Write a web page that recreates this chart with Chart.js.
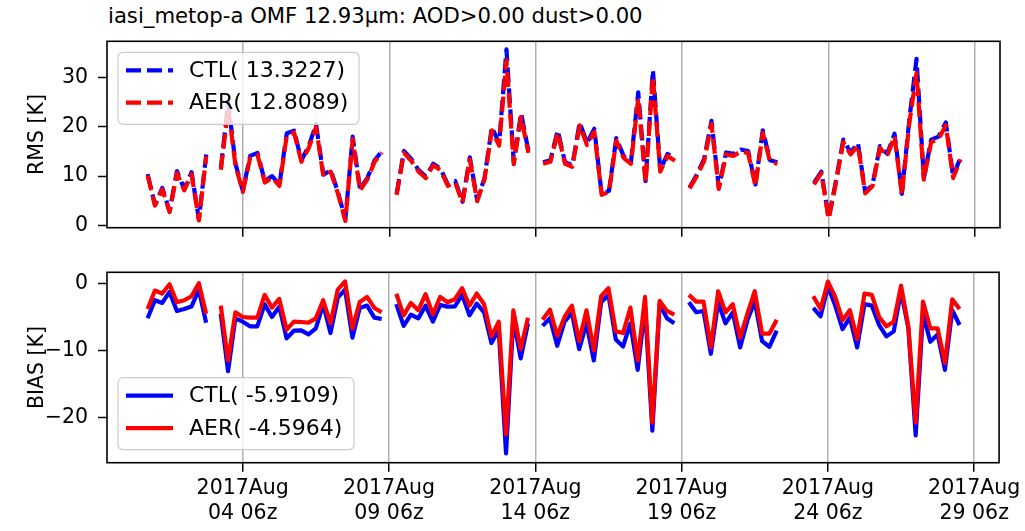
<!DOCTYPE html>
<html>
<head>
<meta charset="utf-8">
<script src="https://cdn.jsdelivr.net/npm/chart.js@4.4.0/dist/chart.umd.min.js"></script>
<style>
  html, body { margin: 0; padding: 0; background: #fff; }
  #wrap { position: relative; width: 1025px; height: 531px; }
  #title { position: absolute; left: 108px; top: 3px; font: 21.2px 'DejaVu Sans'; color: #000; white-space: nowrap; }
  #rmsChart { position: absolute; left: 0; top: 0; }
  #biasChart { position: absolute; left: 0; top: 250px; }
</style>
</head>
<body>
<div id="wrap">
  <div id="title">iasi_metop-a OMF 12.93μm: AOD&gt;0.00 dust&gt;0.00</div>
  <canvas id="rmsChart" width="1025" height="250" style="width:1025px;height:250px"></canvas>
  <canvas id="biasChart" width="1025" height="281" style="width:1025px;height:281px"></canvas>
</div>
<script>
// 6-hourly steps starting 2017 Aug 01 00z (null = no data)
const rmsCtl = [10.4, 4.2, 7.6, 2.9, 11.0, 7.4, 10.8, 1.2, 14.4, null,
  11.6, 25.0, 12.5, 7.0, 14.1, 14.7, 9.0, 10.0, 8.3, 18.7,
  19.2, 13.2, 16.1, 20.5, 10.3, 11.2, 6.7, 1.2, 18.0, 7.4,
  9.6, 13.2, 15.1, null, 6.4, 15.1, 13.5, 11.2, 9.9, 12.5,
  11.5, 8.3, 9.0, 4.8, 13.8, 5.1, 9.6, 19.9, 16.7, 35.7,
  12.8, 22.8, 15.1, null, 12.8, 13.2, 19.3, 12.8, 12.2, 20.9,
  16.7, 19.6, 6.4, 7.0, 17.7, 14.1, 12.8, 27.0, 9.0, 31.5,
  11.2, 14.5, 13.5, null, 7.7, 10.3, 13.5, 21.2, 7.7, 14.8,
  14.5, 15.4, 15.1, 8.3, 19.3, 13.2, 12.8, null, null, null,
  null, 8.6, 10.9, 1.5, 9.0, 17.4, 14.8, 16.7, 6.7, 8.3,
  16.1, 14.5, 18.6, 6.4, 21.2, 33.8, 9.6, 17.4, 18.0, 20.9,
  9.9, 13.8];
const rmsAer = [10.1, 4.0, 7.3, 2.7, 10.6, 7.1, 10.4, 1.0, 14.0, null,
  11.3, 23.8, 12.1, 6.8, 13.7, 14.3, 8.7, 9.7, 8.0, 18.2,
  18.8, 12.9, 15.7, 19.9, 10.0, 10.9, 6.4, 0.9, 17.5, 7.1,
  9.3, 12.9, 14.8, null, 6.2, 14.7, 13.1, 10.9, 9.6, 12.2,
  11.2, 8.0, 8.7, 4.6, 13.4, 4.9, 9.3, 19.3, 16.2, 33.5,
  12.4, 22.0, 14.7, null, 12.5, 12.9, 18.8, 12.5, 11.9, 20.3,
  16.3, 19.0, 6.2, 6.8, 17.2, 13.7, 12.5, 25.8, 8.7, 30.2,
  10.9, 14.1, 13.1, null, 7.5, 10.0, 13.1, 20.6, 7.4, 14.4,
  14.1, 15.0, 14.7, 8.0, 18.8, 12.9, 12.5, null, null, null,
  null, 8.3, 10.6, 1.3, 8.7, 16.9, 14.4, 16.2, 6.5, 8.0,
  15.7, 14.1, 18.1, 6.2, 20.6, 30.9, 9.3, 16.9, 17.5, 20.3,
  9.6, 13.4];
const biasCtl = [-5.2, -2.5, -2.9, -1.25, -4.1, -3.8, -3.45, -0.9, -5.85, null,
  -4.5, -13.1, -5.2, -5.7, -6.4, -6.4, -3.1, -5.0, -3.45, -8.2,
  -7.05, -7.0, -7.6, -6.7, -3.1, -7.4, -2.1, -0.9, -8.1, -3.65,
  -3.3, -5.1, -5.3, null, -3.07, -6.33, -4.65, -5.2, -3.3, -5.7,
  -3.2, -3.45, -3.4, -1.7, -4.75, -3.0, -4.3, -8.9, -6.9, -25.4,
  -5.2, -11.2, -5.95, null, -6.33, -5.2, -9.3, -5.7, -4.4, -9.8,
  -5.95, -11.5, -2.8, -1.7, -8.35, -9.4, -5.95, -12.9, -3.55, -22.0,
  -3.07, -5.2, -5.95, null, -2.8, -4.3, -4.1, -10.5, -2.8, -5.95,
  -4.3, -9.55, -5.5, -2.6, -8.6, -9.45, -7.05, null, null, null,
  null, -3.65, -4.9, -0.43, -3.3, -6.8, -5.1, -9.55, -3.07, -3.3,
  -6.2, -7.9, -7.15, -1.15, -6.7, -22.7, -4.5, -8.7, -7.6, -12.9,
  -4.0, -6.2];
const biasAer = [-3.8, -1.05, -1.5, -0.1, -2.8, -2.5, -1.9, 0.05, -4.5, null,
  -3.3, -11.5, -4.3, -5.0, -5.1, -5.1, -1.7, -3.6, -2.3, -6.9,
  -5.7, -5.75, -5.85, -5.2, -2.5, -5.95, -0.9, 0.3, -6.7, -2.75,
  -2.0, -3.65, -4.3, null, -1.53, -4.75, -2.9, -4.0, -1.6, -4.6,
  -2.0, -2.8, -2.35, -0.7, -3.3, -1.5, -3.1, -7.9, -5.7, -22.5,
  -4.0, -9.8, -5.1, null, -5.4, -3.9, -7.8, -5.0, -3.3, -8.6,
  -4.0, -10.0, -1.9, -0.7, -7.15, -7.4, -3.6, -11.5, -2.0, -20.8,
  -2.6, -4.1, -4.65, null, -1.7, -2.7, -2.7, -9.55, -1.15, -4.3,
  -3.1, -8.1, -4.5, -1.15, -7.5, -7.5, -5.4, null, null, null,
  null, -1.9, -3.8, 0.3, -2.0, -5.5, -4.0, -8.3, -1.5, -1.7,
  -5.0, -6.4, -5.7, -0.3, -6.4, -20.8, -2.7, -6.7, -6.7, -11.9,
  -2.35, -3.8];

const seriesNames = ['CTL', 'AER'];
const rmsMeans = ['13.3227', '12.8089'];
const biasMeans = ['-5.9109', '-4.5964'];

// x ticks (in 6-hour steps from Aug 01 00z)
const xTickSteps = [13, 33, 53, 73, 93, 113];
const xTickLabels = [
  ['2017Aug', '04 06z'], ['2017Aug', '09 06z'], ['2017Aug', '14 06z'],
  ['2017Aug', '19 06z'], ['2017Aug', '24 06z'], ['2017Aug', '29 06z']
];
const rmsTicks = [0, 10, 20, 30];
const biasTicks = [0, -10, -20];

const FONT = { family: 'DejaVu Sans', size: 20.5 };

function toPoints(arr) {
  return arr.map((v, i) => ({ x: i, y: v }));
}

// draws the box around the plot area and the in-plot legend
const boxPlugin = {
  id: 'boxLegend',
  afterDraw(chart) {
    const { ctx, chartArea: a } = chart;
    const o = chart.options.plugins.boxLegend;
    ctx.save();
    // legend
    const lx = a.left + 11;
    const ly = o.atBottom ? a.bottom - 13 - 72 : a.top + 11;
    const w = o.width, h = 72, r = 5;
    ctx.beginPath();
    ctx.moveTo(lx + r, ly);
    ctx.arcTo(lx + w, ly, lx + w, ly + h, r);
    ctx.arcTo(lx + w, ly + h, lx, ly + h, r);
    ctx.arcTo(lx, ly + h, lx, ly, r);
    ctx.arcTo(lx, ly, lx + w, ly, r);
    ctx.closePath();
    ctx.fillStyle = 'rgba(255,255,255,0.8)';
    ctx.fill();
    ctx.strokeStyle = '#cccccc';
    ctx.lineWidth = 1.2;
    ctx.stroke();
    chart.data.datasets.forEach((ds, i) => {
      const yy = ly + 18 + i * 32.4;
      ctx.beginPath();
      ctx.setLineDash(ds.borderDash || []);
      ctx.strokeStyle = ds.borderColor;
      ctx.lineWidth = ds.borderWidth;
      ctx.moveTo(lx + 8, yy);
      ctx.lineTo(lx + 55, yy);
      ctx.stroke();
      ctx.setLineDash([]);
      ctx.fillStyle = '#000';
      ctx.font = '22px "DejaVu Sans"';
      ctx.textBaseline = 'middle';
      ctx.fillText(ds.label, lx + 71, yy + 1);
    });
    // frame
    ctx.strokeStyle = '#000';
    ctx.lineWidth = 1.6;
    ctx.strokeRect(a.left, a.top, a.right - a.left, a.bottom - a.top);
    ctx.restore();
  }
};

function makeChart(id, cfg) {
  const datasets = [
    {
      label: seriesNames[0] + '( ' + cfg.means[0] + ')',
      data: toPoints(cfg.ctl),
      borderColor: '#0000ff',
      borderWidth: 4.2,
      borderDash: cfg.dash,
      order: 1
    },
    {
      label: seriesNames[1] + '( ' + cfg.means[1] + ')',
      data: toPoints(cfg.aer),
      borderColor: '#ff0000',
      borderWidth: 4.2,
      borderDash: cfg.dash,
      order: 0
    }
  ];
  datasets.forEach(ds => {
    ds.pointRadius = 0;
    ds.tension = 0;
    ds.spanGaps = false;
    ds.fill = false;
    ds.borderJoinStyle = 'round';
  });

  return new Chart(document.getElementById(id), {
    type: 'line',
    data: { datasets: datasets },
    plugins: [boxPlugin],
    options: {
      responsive: false,
      animation: false,
      devicePixelRatio: 1,
      layout: { padding: { left: 0, right: 25, top: cfg.padTop, bottom: 0 } },
      plugins: {
        legend: { display: false },
        tooltip: { enabled: false },
        boxLegend: { atBottom: cfg.legendBottom, width: cfg.legendWidth }
      },
      scales: {
        x: {
          type: 'linear',
          min: -5.55,
          max: 116.4,
          afterBuildTicks: function(scale) {
            scale.ticks = xTickSteps.map(v => ({ value: v }));
          },
          afterFit: function(scale) {
            scale.height = cfg.xHeight;
          },
          ticks: {
            display: cfg.showX,
            autoSkip: false,
            maxRotation: 0,
            padding: 4,
            color: '#000',
            font: { family: 'DejaVu Sans', size: 20.5, lineHeight: 1.24 },
            callback: function(value, index) {
              return xTickLabels[index];
            }
          },
          grid: { color: '#b0b0b0', lineWidth: 1.5, tickColor: '#000', tickLength: 9, tickWidth: 1.5 },
          border: { display: false }
        },
        y: {
          min: cfg.yMin,
          max: cfg.yMax,
          afterBuildTicks: function(scale) {
            scale.ticks = cfg.yTicks.map(v => ({ value: v }));
          },
          afterFit: function(scale) {
            scale.width = 107;
          },
          ticks: {
            color: '#000',
            font: FONT,
            padding: 10,
            callback: function(value) {
              return value < 0 ? '\u2212' + Math.abs(value) : String(value);
            }
          },
          grid: { drawOnChartArea: false, tickColor: '#000', tickLength: 9, tickWidth: 1.5 },
          border: { display: false },
          title: {
            display: true,
            text: cfg.yTitle,
            color: '#000',
            font: FONT,
            padding: { top: 25, bottom: 0 }
          }
        }
      }
    }
  });
}

makeChart('rmsChart', {
  ctl: rmsCtl, aer: rmsAer, means: rmsMeans,
  dash: [15, 6],
  yMin: -0.47, yMax: 37.35, yTicks: rmsTicks, yTitle: 'RMS [K]',
  padTop: 41.3, xHeight: 14.3, showX: false,
  legendBottom: false, legendWidth: 241
});

makeChart('biasChart', {
  ctl: biasCtl, aer: biasAer, means: biasMeans,
  dash: [],
  yMin: -26.78, yMax: 1.68, yTicks: biasTicks, yTitle: 'BIAS [K]',
  padTop: 16.7, xHeight: 68.3, showX: true,
  legendBottom: true, legendWidth: 236
});
</script>
</body>
</html>
